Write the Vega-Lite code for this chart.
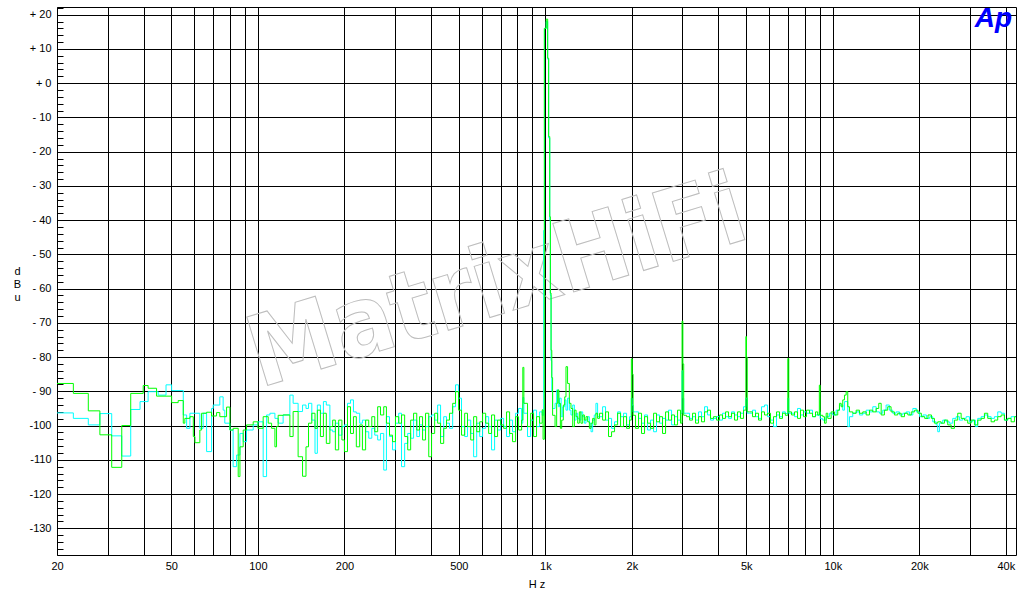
{
"$schema": "https://vega.github.io/schema/vega-lite/v6.json",
"width": 959, "height": 548,
"autosize": {"type": "none"},
"padding": {"left": 57, "top": 7, "right": 17, "bottom": 44},
"background": "white",
"config": {"view": {"stroke": "black", "strokeWidth": 1}, "font": "Liberation Sans"},
"datasets": {
"watermark": [{"f": 682, "v": -58.9, "t": "MatrixHiFi"}],
"logo": [{"f": 36220, "v": 16.5, "t": "Ap"}],
"green": [
{"f":20,"v":-87.7},{"f":22.8,"v":-90.6},{"f":25.7,"v":-95.7},{"f":28.2,"v":-102.7},{"f":31.0,"v":-112.2},{"f":33.6,"v":-100.0},{"f":36.1,"v":-90.6},{"f":39.9,"v":-88.3},{"f":41.5,"v":-89.1},{"f":44.4,"v":-91.4},{"f":50.1,"v":-93.3},{"f":52.8,"v":-92.7},{"f":55.0,"v":-99.3},{"f":55.7,"v":-97.9},{"f":58.0,"v":-97.4},{"f":59.6,"v":-103.2},{"f":60.4,"v":-105.0},{"f":62.8,"v":-101.3},{"f":63.7,"v":-96.4},{"f":66.3,"v":-96.1},{"f":69.0,"v":-97.2},{"f":71.8,"v":-96.2},{"f":73.7,"v":-97.4},{"f":77.8,"v":-94.6},{"f":79.9,"v":-101.3},{"f":82.0,"v":-100.8},{"f":85.4,"v":-114.9},{"f":86.6,"v":-106.2},{"f":88.9,"v":-101.3},{"f":91.3,"v":-99.8},{"f":96.3,"v":-98.9},{"f":100,"v":-100.8},{"f":104.3,"v":-97.4},{"f":108.6,"v":-99.3},{"f":111.6,"v":-100.8},{"f":114.6,"v":-106.2},{"f":116.1,"v":-100.3},{"f":117.6,"v":-97.0},{"f":122.4,"v":-96.9},{"f":129.2,"v":-103.2},{"f":132.6,"v":-95.9},{"f":138.0,"v":-109.1},
{"f":140,"v":-109.1},{"f":143,"v":-114.8},{"f":147,"v":-106.2},{"f":150,"v":-99.3},{"f":154,"v":-96.4},{"f":158,"v":-100.8},{"f":161,"v":-95.5},{"f":165,"v":-103.2},{"f":169,"v":-96.4},{"f":173,"v":-105.2},{"f":178,"v":-100.3},{"f":182,"v":-98.4},{"f":186,"v":-107.1},{"f":191,"v":-98.4},{"f":196,"v":-104.2},{"f":200,"v":-107.6},{"f":205,"v":-94.5},{"f":210,"v":-102.3},{"f":215,"v":-97.4},{"f":220,"v":-106.2},{"f":226,"v":-99.8},{"f":231,"v":-107.1},{"f":237,"v":-98.4},{"f":243,"v":-100.3},{"f":249,"v":-97.4},{"f":255,"v":-101.8},{"f":261,"v":-94.5},{"f":267,"v":-96.9},{"f":274,"v":-94.5},{"f":280,"v":-99.3},{"f":287,"v":-102.8},{"f":294,"v":-104.7},{"f":301,"v":-97.4},{"f":309,"v":-99.3},{"f":316,"v":-96.9},{"f":324,"v":-103.2},{"f":332,"v":-107.1},{"f":340,"v":-98.4},{"f":348,"v":-96.4},{"f":357,"v":-101.3},{"f":365,"v":-97.4},{"f":374,"v":-104.2},{"f":383,"v":-96.4},{"f":393,"v":-109.1},{"f":402,"v":-102.3},{"f":412,"v":-96.4},{"f":422,"v":-99.3},{"f":432,"v":-105.2},{"f":443,"v":-100.8},{"f":453,"v":-98.4},{"f":464,"v":-96.4},{"f":476,"v":-93.5},{"f":487,"v":-90.1},{"f":499,"v":-95.5},{"f":511,"v":-102.8},{"f":524,"v":-96.4},{"f":536,"v":-100.3},{"f":550,"v":-104.2},{"f":563,"v":-97.4},{"f":577,"v":-101.8},{"f":591,"v":-98.9},{"f":605,"v":-96.4},{"f":620,"v":-99.3},{"f":635,"v":-102.3},{"f":650,"v":-96.9},{"f":666,"v":-103.2},{"f":682,"v":-98.4},{"f":699,"v":-99.8},{"f":716,"v":-100.8},{"f":733,"v":-96},{"f":751,"v":-102.3},{"f":769,"v":-104.7},{"f":788,"v":-97.4},{"f":807,"v":-101.3},{"f":827,"v":-98.4},{"f":835,"v":-83.0},{"f":842,"v":-93.5},{"f":867,"v":-100.3},{"f":889,"v":-96.4},{"f":910,"v":-103.2},{"f":932,"v":-97.4},{"f":955,"v":-99.3},{"f":975,"v":-95.4},{"f":982,"v":-104},
{"f":992,"v":16},{"f":1007,"v":18.7},{"f":1019,"v":7.3},{"f":1027,"v":-15.6},{"f":1036,"v":-39},{"f":1041,"v":-61.3},{"f":1047,"v":-78},{"f":1053,"v":-86},{"f":1060,"v":-97},
{"f":1081,"v":-100.3},{"f":1095,"v":-93.5},{"f":1104,"v":-89.6},{"f":1115,"v":-93.5},{"f":1128,"v":-100.8},{"f":1140,"v":-98.4},{"f":1155,"v":-94},{"f":1168,"v":-91.6},{"f":1180,"v":-82.8},{"f":1195,"v":-87.7},{"f":1212,"v":-93.5},{"f":1228,"v":-95},{"f":1245,"v":-100.3},{"f":1262,"v":-95.5},{"f":1279,"v":-97.4},{"f":1296,"v":-99.3},{"f":1313,"v":-96},{"f":1330,"v":-99.3},{"f":1349,"v":-96.9},{"f":1367,"v":-98.4},{"f":1385,"v":-97.4},{"f":1404,"v":-98.9},{"f":1423,"v":-100.8},{"f":1442,"v":-99.3},{"f":1461,"v":-97.9},{"f":1480,"v":-99.8},{"f":1500,"v":-96.4},{"f":1520,"v":-97.9},
{"f":1544,"v":-96.4},{"f":1582,"v":-98.4},{"f":1620,"v":-96},{"f":1659,"v":-103.2},{"f":1700,"v":-101.8},{"f":1741,"v":-99.8},{"f":1784,"v":-96.4},{"f":1827,"v":-100.3},{"f":1871,"v":-97.4},{"f":1917,"v":-100.8},{"f":1963,"v":-98.4},{"f":1992,"v":-80.5},{"f":2006,"v":-85},{"f":2020,"v":-97},{"f":2060,"v":-100.8},{"f":2110,"v":-96.4},{"f":2161,"v":-102.3},{"f":2214,"v":-97.4},{"f":2268,"v":-99.3},{"f":2323,"v":-100.8},{"f":2380,"v":-96.4},{"f":2437,"v":-98.9},{"f":2497,"v":-97.4},{"f":2557,"v":-102.3},{"f":2620,"v":-96},{"f":2683,"v":-98.4},{"f":2749,"v":-96.9},{"f":2815,"v":-99.8},{"f":2884,"v":-95.5},{"f":2954,"v":-99.3},{"f":2990,"v":-69.5},{"f":3010,"v":-82},{"f":3030,"v":-97},{"f":3099,"v":-97.4},{"f":3175,"v":-98.4},{"f":3252,"v":-96.4},{"f":3331,"v":-99.3},{"f":3412,"v":-97.4},{"f":3495,"v":-98.9},{"f":3580,"v":-96},{"f":3667,"v":-95.5},{"f":3756,"v":-97.9},{"f":3848,"v":-97.4},{"f":3941,"v":-98.4},{"f":4037,"v":-96.9},{"f":4135,"v":-97.9},{"f":4236,"v":-96},{"f":4339,"v":-97.4},{"f":4444,"v":-96.4},{"f":4552,"v":-98.4},{"f":4663,"v":-96},{"f":4776,"v":-97.9},{"f":4893,"v":-95.5},{"f":4985,"v":-74},{"f":5010,"v":-80},{"f":5040,"v":-96},{"f":5133,"v":-96},{"f":5258,"v":-97.4},{"f":5386,"v":-96.4},{"f":5517,"v":-98.4},{"f":5651,"v":-96},{"f":5789,"v":-96.9},{"f":5930,"v":-96.4},{"f":6074,"v":-99.3},{"f":6221,"v":-97.4},{"f":6373,"v":-96},{"f":6528,"v":-97.9},{"f":6686,"v":-96.4},{"f":6840,"v":-97},{"f":6975,"v":-80.4},{"f":7030,"v":-96},{"f":7186,"v":-96.9},{"f":7361,"v":-96},{"f":7540,"v":-97.9},{"f":7723,"v":-95.5},{"f":7911,"v":-97.4},{"f":8104,"v":-95.5},{"f":8301,"v":-96.4},{"f":8503,"v":-97.4},{"f":8709,"v":-96},{"f":8860,"v":-96.9},{"f":8980,"v":-88.2},{"f":9040,"v":-97},
{"f":9231,"v":-97.4},{"f":9357,"v":-99.3},{"f":9485,"v":-96.4},{"f":9608,"v":-97.9},{"f":9873,"v":-96},{"f":10137,"v":-96.9},{"f":10408,"v":-95.5},{"f":10551,"v":-93.5},{"f":10696,"v":-94.5},{"f":10834,"v":-92.5},{"f":10983,"v":-91.1},{"f":11133,"v":-90.1},{"f":11276,"v":-94.5},{"f":11431,"v":-96},{"f":11737,"v":-96.4},{"f":12060,"v":-95.5},{"f":12384,"v":-96.4},{"f":12717,"v":-96},{"f":13067,"v":-96.9},{"f":13418,"v":-95.5},{"f":13778,"v":-96},{"f":14156,"v":-95},{"f":14454,"v":-93.5},{"f":14736,"v":-96.9},{"f":15123,"v":-95.5},{"f":15532,"v":-94.5},{"f":15953,"v":-96},{"f":16385,"v":-96.9},{"f":16829,"v":-96.4},{"f":17301,"v":-97.4},{"f":17764,"v":-96.4},{"f":18243,"v":-96.9},{"f":18753,"v":-96},{"f":19260,"v":-95.5},{"f":19780,"v":-96.4},{"f":20333,"v":-97.4},{"f":20881,"v":-97.9},{"f":21445,"v":-96.9},{"f":22044,"v":-97.9},{"f":22579,"v":-99.3},{"f":23184,"v":-98.9},{"f":23823,"v":-99.3},{"f":24461,"v":-98.4},{"f":25119,"v":-99.8},{"f":25812,"v":-100.8},{"f":26503,"v":-98.4},{"f":27213,"v":-96.4},{"f":27964,"v":-97.9},{"f":28712,"v":-98.4},{"f":29482,"v":-99.3},{"f":30295,"v":-98.4},{"f":31106,"v":-99.8},{"f":31939,"v":-98.4},{"f":32821,"v":-97.9},{"f":33700,"v":-96.4},{"f":34604,"v":-97.9},{"f":35559,"v":-98.9},{"f":36512,"v":-98.4},{"f":37491,"v":-97.4},{"f":38527,"v":-96.9},{"f":39558,"v":-98.4},{"f":40615,"v":-97.9},{"f":41736,"v":-98.9},{"f":42855,"v":-97.4},{"f":43400,"v":-97.4}
],
"cyan": [
{"f":20,"v":-96.3},{"f":22.8,"v":-97.9},{"f":25.7,"v":-99.8},{"f":28.2,"v":-96.5},{"f":31.0,"v":-103.0},{"f":33.6,"v":-108.9},{"f":36.1,"v":-95.3},{"f":38.9,"v":-93.0},{"f":41.5,"v":-90.1},{"f":45.0,"v":-91.1},{"f":47.9,"v":-88.1},{"f":50.1,"v":-89.8},{"f":55.0,"v":-96.9},{"f":56.5,"v":-100.8},{"f":58.0,"v":-96.4},{"f":62.8,"v":-100.8},{"f":64.5,"v":-96.4},{"f":66.3,"v":-107.6},{"f":69.0,"v":-95.0},{"f":69.9,"v":-94.0},{"f":73.7,"v":-91.6},{"f":75.7,"v":-95.5},{"f":76.7,"v":-99.3},{"f":79.9,"v":-101.3},{"f":82.0,"v":-112.0},{"f":84.3,"v":-108.6},{"f":86.6,"v":-102.3},{"f":88.9,"v":-104.7},{"f":91.3,"v":-101.3},{"f":96.3,"v":-99.8},{"f":100,"v":-98.9},{"f":104.3,"v":-114.9},{"f":107.2,"v":-96.9},{"f":110.1,"v":-96.4},{"f":114.6,"v":-97.9},{"f":117.6,"v":-99.3},{"f":122.4,"v":-96.9},{"f":129.2,"v":-91.1},{"f":132.6,"v":-93.5},{"f":138.0,"v":-95.9},
{"f":143,"v":-94},{"f":147,"v":-95},{"f":150,"v":-93.5},{"f":154,"v":-98.4},{"f":158,"v":-108.1},{"f":161,"v":-94},{"f":165,"v":-96.4},{"f":169,"v":-93},{"f":173,"v":-94},{"f":178,"v":-101.3},{"f":182,"v":-101.8},{"f":186,"v":-99.3},{"f":191,"v":-102.8},{"f":196,"v":-100.3},{"f":200,"v":-99.8},{"f":205,"v":-93.5},{"f":210,"v":-92.5},{"f":215,"v":-96},{"f":220,"v":-96.4},{"f":226,"v":-99.3},{"f":231,"v":-98.4},{"f":237,"v":-101.8},{"f":243,"v":-103.7},{"f":249,"v":-100.8},{"f":255,"v":-102.8},{"f":261,"v":-104.2},{"f":267,"v":-102.3},{"f":274,"v":-113},{"f":280,"v":-97.4},{"f":287,"v":-103.2},{"f":294,"v":-107.1},{"f":301,"v":-99.3},{"f":309,"v":-96.4},{"f":316,"v":-112},{"f":324,"v":-105.2},{"f":332,"v":-102.3},{"f":340,"v":-103.7},{"f":348,"v":-98.4},{"f":357,"v":-103.2},{"f":365,"v":-99.8},{"f":374,"v":-101.3},{"f":383,"v":-100.3},{"f":393,"v":-97.4},{"f":402,"v":-96.9},{"f":412,"v":-98.4},{"f":422,"v":-94},{"f":432,"v":-103.2},{"f":443,"v":-97.4},{"f":453,"v":-99.3},{"f":464,"v":-100.8},{"f":476,"v":-94.5},{"f":487,"v":-88.1},{"f":499,"v":-92},{"f":511,"v":-100.3},{"f":524,"v":-103.2},{"f":536,"v":-98.4},{"f":550,"v":-102.3},{"f":563,"v":-109.1},{"f":577,"v":-99.3},{"f":591,"v":-103.2},{"f":605,"v":-100.8},{"f":620,"v":-97.4},{"f":635,"v":-100.3},{"f":650,"v":-107.1},{"f":666,"v":-98.4},{"f":682,"v":-101.3},{"f":699,"v":-97.9},{"f":716,"v":-100.3},{"f":733,"v":-103.2},{"f":751,"v":-98.4},{"f":769,"v":-101.8},{"f":788,"v":-96.4},{"f":807,"v":-95},{"f":827,"v":-99.3},{"f":835,"v":-91.8},{"f":842,"v":-96.4},{"f":867,"v":-103.2},{"f":889,"v":-98.4},{"f":910,"v":-95.5},{"f":932,"v":-100.3},{"f":955,"v":-96},{"f":975,"v":-97},
{"f":987,"v":-43},{"f":993,"v":16},{"f":1007,"v":18},{"f":1019,"v":7},{"f":1027,"v":-16},{"f":1036,"v":-40},{"f":1041,"v":-62},{"f":1047,"v":-81},{"f":1053,"v":-90},{"f":1060,"v":-95},
{"f":1081,"v":-93.5},{"f":1095,"v":-89.6},{"f":1110,"v":-94.5},{"f":1120,"v":-92},{"f":1135,"v":-97.4},{"f":1150,"v":-94.5},{"f":1168,"v":-92.5},{"f":1180,"v":-95.5},{"f":1195,"v":-92},{"f":1212,"v":-95.5},{"f":1228,"v":-96.9},{"f":1245,"v":-94},{"f":1262,"v":-98.4},{"f":1279,"v":-96.4},{"f":1296,"v":-97.9},{"f":1313,"v":-98.4},{"f":1330,"v":-96},{"f":1349,"v":-97.4},{"f":1367,"v":-99.3},{"f":1385,"v":-98.4},{"f":1404,"v":-97.4},{"f":1423,"v":-99.3},{"f":1442,"v":-101.8},{"f":1461,"v":-98.4},{"f":1480,"v":-96.9},{"f":1500,"v":-93.5},{"f":1520,"v":-97.4},
{"f":1544,"v":-97.4},{"f":1582,"v":-94.5},{"f":1620,"v":-98.4},{"f":1659,"v":-97.9},{"f":1700,"v":-100.8},{"f":1741,"v":-98.9},{"f":1784,"v":-96},{"f":1827,"v":-97.4},{"f":1871,"v":-96.4},{"f":1917,"v":-99.8},{"f":1963,"v":-97.4},{"f":1990,"v":-92},{"f":2004,"v":-94},{"f":2020,"v":-96},{"f":2060,"v":-96},{"f":2110,"v":-97.9},{"f":2161,"v":-99.3},{"f":2214,"v":-96.9},{"f":2268,"v":-101.3},{"f":2323,"v":-98.4},{"f":2380,"v":-101.8},{"f":2437,"v":-96.9},{"f":2497,"v":-99.3},{"f":2557,"v":-97.9},{"f":2620,"v":-98.4},{"f":2683,"v":-95.5},{"f":2749,"v":-99.8},{"f":2815,"v":-97.4},{"f":2884,"v":-98.4},{"f":2954,"v":-96.4},{"f":2990,"v":-84},{"f":3010,"v":-92},{"f":3030,"v":-96.4},{"f":3099,"v":-96.4},{"f":3175,"v":-97.9},{"f":3252,"v":-97.4},{"f":3331,"v":-98.4},{"f":3412,"v":-96},{"f":3495,"v":-97.4},{"f":3580,"v":-94.5},{"f":3667,"v":-96.9},{"f":3756,"v":-98.4},{"f":3848,"v":-97.9},{"f":3941,"v":-97.4},{"f":4037,"v":-98.4},{"f":4135,"v":-96.4},{"f":4236,"v":-97.4},{"f":4339,"v":-97.9},{"f":4444,"v":-96},{"f":4552,"v":-96.9},{"f":4663,"v":-97.4},{"f":4776,"v":-96.4},{"f":4893,"v":-94.5},{"f":4985,"v":-92},{"f":5040,"v":-96.4},{"f":5133,"v":-96.4},{"f":5258,"v":-95.5},{"f":5386,"v":-97.4},{"f":5517,"v":-97.9},{"f":5651,"v":-94.5},{"f":5789,"v":-94},{"f":5930,"v":-97.4},{"f":6074,"v":-98.4},{"f":6221,"v":-100.3},{"f":6373,"v":-96.9},{"f":6528,"v":-97.4},{"f":6686,"v":-96},{"f":6840,"v":-96.5},{"f":6975,"v":-92},{"f":7030,"v":-96.4},{"f":7186,"v":-96.4},{"f":7361,"v":-97.4},{"f":7540,"v":-95},{"f":7723,"v":-96.9},{"f":7911,"v":-96},{"f":8104,"v":-96.4},{"f":8301,"v":-95.5},{"f":8503,"v":-97.4},{"f":8709,"v":-96.9},{"f":8860,"v":-97},{"f":8980,"v":-96},{"f":9040,"v":-98},
{"f":9231,"v":-98.4},{"f":9485,"v":-97.4},{"f":9739,"v":-96.4},{"f":10000,"v":-96.9},{"f":10276,"v":-95.5},{"f":10551,"v":-94},{"f":10834,"v":-95.5},{"f":10983,"v":-93},{"f":11276,"v":-100.3},{"f":11431,"v":-97.4},{"f":11737,"v":-96.4},{"f":12060,"v":-96},{"f":12384,"v":-96.9},{"f":12717,"v":-96.4},{"f":13067,"v":-95.5},{"f":13418,"v":-96},{"f":13778,"v":-94.5},{"f":14156,"v":-96},{"f":14536,"v":-96.4},{"f":14919,"v":-95.5},{"f":15329,"v":-94},{"f":15737,"v":-95.5},{"f":16163,"v":-96.4},{"f":16609,"v":-96},{"f":17063,"v":-96.9},{"f":17522,"v":-96.4},{"f":18011,"v":-96},{"f":18496,"v":-96.9},{"f":18997,"v":-95},{"f":19528,"v":-96},{"f":20054,"v":-97.4},{"f":20596,"v":-96.9},{"f":21171,"v":-97.9},{"f":21742,"v":-97.4},{"f":22274,"v":-98.9},{"f":22888,"v":-99.8},{"f":23184,"v":-101.8},{"f":23501,"v":-99.3},{"f":24131,"v":-98.4},{"f":24796,"v":-98.9},{"f":25463,"v":-99.3},{"f":26145,"v":-97.9},{"f":26866,"v":-97.4},{"f":27586,"v":-98.4},{"f":28324,"v":-97.9},{"f":29107,"v":-97.4},{"f":29886,"v":-98.9},{"f":30686,"v":-98.4},{"f":31356,"v":-100.3},{"f":31939,"v":-97.9},{"f":32821,"v":-97.4},{"f":33700,"v":-96.9},{"f":34604,"v":-97.4},{"f":35559,"v":-97.9},{"f":36512,"v":-97.4},{"f":37491,"v":-96},{"f":38527,"v":-96.4},{"f":39558,"v":-98.4},{"f":40615,"v":-97.9},{"f":41736,"v":-97.4},{"f":42855,"v":-97.4},{"f":43400,"v":-97.4}
]
},
"encoding": {
"x": {"field": "f", "type": "quantitative",
 "scale": {"type": "log", "domain": [20, 43400], "nice": false},
 "axis": {"values": [20,30,40,50,60,70,80,90,100,200,300,400,500,600,700,800,900,1000,2000,3000,4000,5000,6000,7000,8000,9000,10000,20000,30000,40000],
  "grid": true, "gridColor": "black", "gridOpacity": 1, "gridWidth": 1, "ticks": false, "domain": false,
  "labelExpr": "(datum.value == 20 || datum.value == 50 || datum.value == 100 || datum.value == 200 || datum.value == 500 || datum.value == 1000 || datum.value == 2000 || datum.value == 5000 || datum.value == 10000 || datum.value == 20000 || datum.value == 40000) ? (datum.value >= 1000 ? (datum.value/1000) + 'k' : '' + datum.value) : ''",
  "labelFlush": false, "labelOverlap": false, "labelBound": false, "labelPadding": 5, "labelFontSize": 11, "labelColor": "black", "labelFont": "Liberation Sans",
  "title": "H z", "titleFontSize": 11, "titleFontWeight": "normal", "titleColor": "black", "titleFont": "Liberation Sans", "titlePadding": 7}},
"y": {"field": "v", "type": "quantitative",
 "scale": {"domain": [-137.8, 22.25], "nice": false, "zero": false},
 "axis": {"values": [-136,-134,-132,-130,-128,-126,-124,-122,-120,-118,-116,-114,-112,-110,-108,-106,-104,-102,-100,-98,-96,-94,-92,-90,-88,-86,-84,-82,-80,-78,-76,-74,-72,-70,-68,-66,-64,-62,-60,-58,-56,-54,-52,-50,-48,-46,-44,-42,-40,-38,-36,-34,-32,-30,-28,-26,-24,-22,-20,-18,-16,-14,-12,-10,-8,-6,-4,-2,0,2,4,6,8,10,12,14,16,18,20,22],
  "grid": true, "gridColor": "black", "gridWidth": 1,
  "gridOpacity": {"condition": {"test": "datum.value % 10 === 0", "value": 1}, "value": 0},
  "ticks": true, "tickSize": -6, "tickColor": "black", "tickWidth": 1, "domain": false,
  "labelExpr": "datum.value % 10 !== 0 ? '' : (datum.value > 0 ? '+ ' + datum.value : (datum.value === 0 ? '+ 0' : (datum.value <= -100 ? '-' + (-datum.value) : '- ' + (-datum.value))))",
  "labelFlush": false, "labelOverlap": false, "labelBound": false, "labelPadding": 12, "labelFontSize": 11, "labelColor": "black", "labelFont": "Liberation Sans",
  "title": ["d", "B", "u"], "titleAngle": 0, "titleAlign": "center", "titleBaseline": "middle", "titleFontSize": 11, "titleFontWeight": "normal", "titleColor": "black", "titleFont": "Liberation Sans", "titleLineHeight": 13, "titlePadding": -14, "titleY": 264}}
},
"layer": [
{"data": {"name": "watermark"},
 "mark": {"type": "text", "angle": -17, "fontSize": 98, "font": "DejaVu Sans Condensed, Liberation Sans, sans-serif", "fontWeight": "bold", "fill": "transparent", "stroke": "#bdbdbd", "strokeWidth": 1, "align": "center", "baseline": "middle"},
 "encoding": {"text": {"field": "t"}}},
{"data": {"name": "cyan"},
 "mark": {"type": "line", "interpolate": "step-after", "color": "#00ffff", "strokeWidth": 1, "clip": true}},
{"data": {"name": "green"},
 "mark": {"type": "line", "interpolate": "step-after", "color": "#00ff00", "strokeWidth": 1, "clip": true}},
{"data": {"name": "logo"},
 "mark": {"type": "text", "fontSize": 28, "fontWeight": "bold", "fontStyle": "italic", "font": "Liberation Sans", "color": "#0000ff", "align": "center", "baseline": "alphabetic"},
 "encoding": {"text": {"field": "t"}}}
]
}
